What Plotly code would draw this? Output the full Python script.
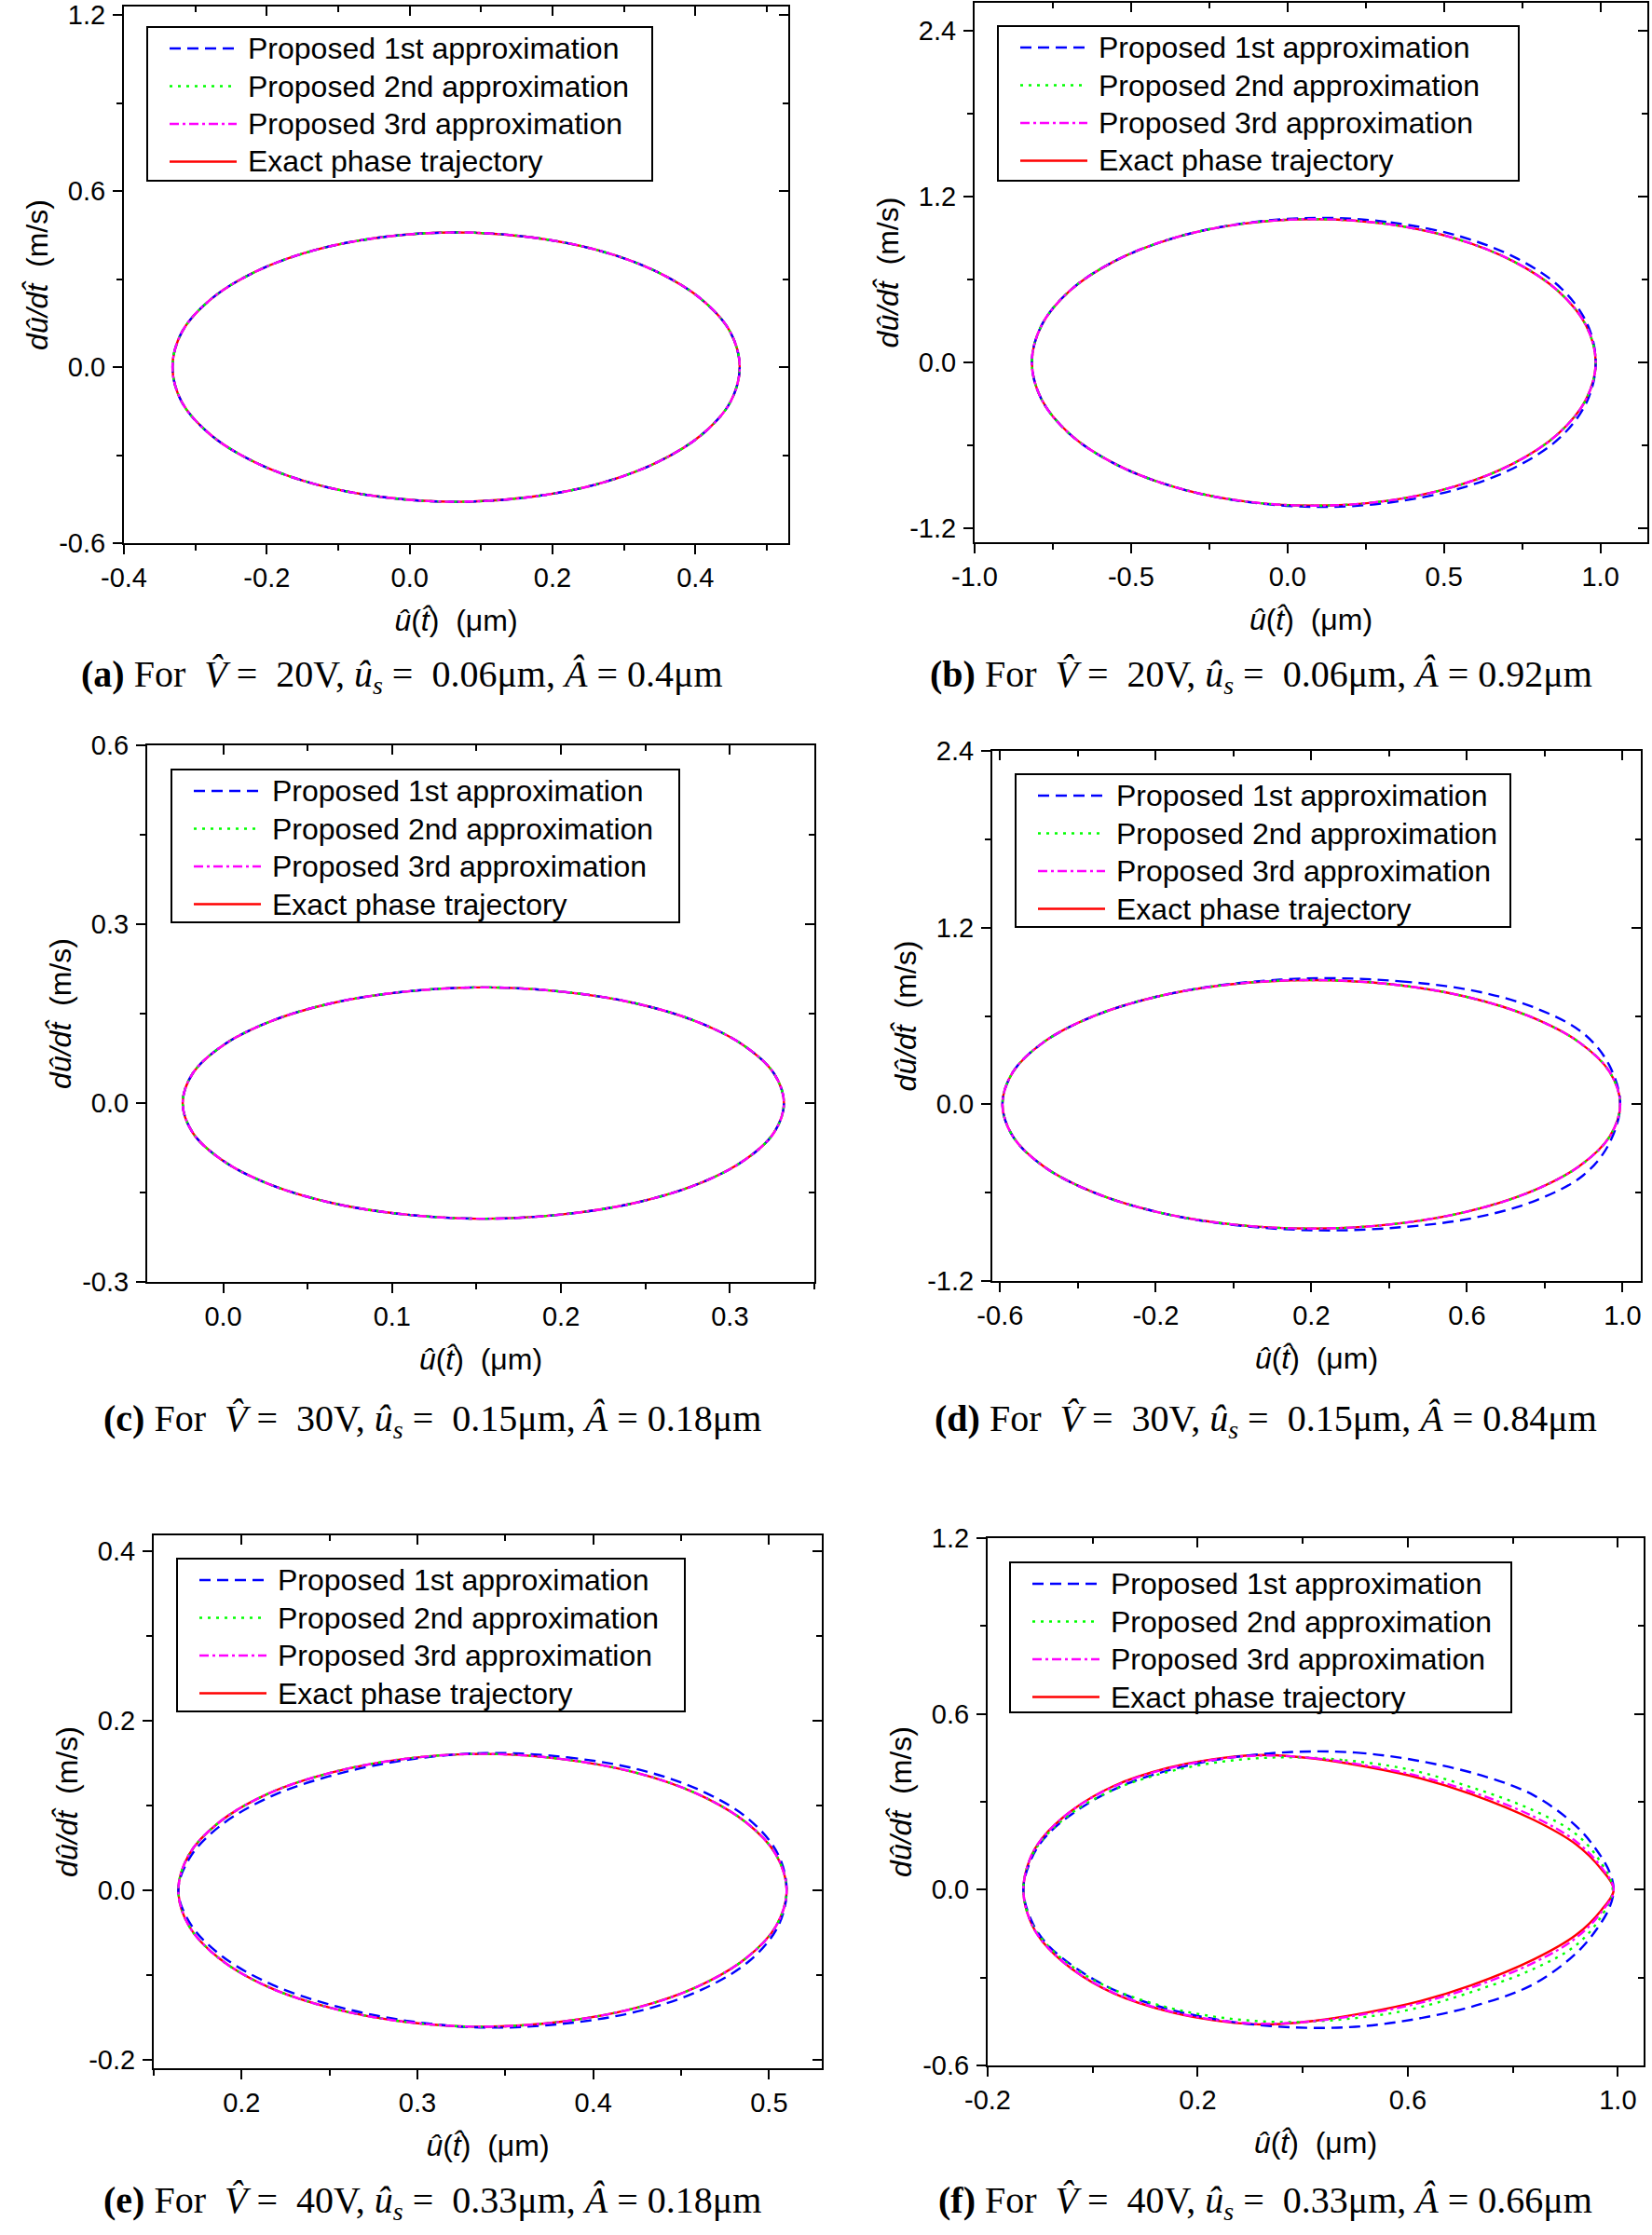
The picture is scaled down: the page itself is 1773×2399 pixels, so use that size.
import numpy as np
import plotly.graph_objects as go

W, H = 1773, 2399

# ============================================================
#   DATA: upper half of each trajectory,
#   from the left turning point to the right one
# ============================================================

series_names = ["Proposed 1st approximation", "Proposed 2nd approximation",
                "Proposed 3rd approximation", "Exact phase trajectory"]

panel_letters = ["a", "b", "c", "d", "e", "f"]
volts = ["20", "20", "30", "30", "40", "40"]
us_values = ["0.06", "0.06", "0.15", "0.15", "0.33", "0.33"]
amp_values = ["0.4", "0.92", "0.18", "0.84", "0.18", "0.66"]

# (a)
a_x_exact = [-0.332, -0.319, -0.279, -0.216, -0.134, -0.038, 0.065, 0.168, 0.264, 0.346, 0.409, 0.449, 0.462]
a_y_exact = [0, 0.119, 0.230, 0.325, 0.398, 0.443, 0.459, 0.443, 0.398, 0.325, 0.230, 0.119, 0]

# (b)
b_x_exact = [-0.817, -0.786, -0.696, -0.553, -0.367, -0.149, 0.084, 0.317, 0.535, 0.721, 0.864, 0.954, 0.985]
b_y_exact = [0, 0.268, 0.518, 0.732, 0.897, 1.001, 1.036, 1.001, 0.897, 0.732, 0.518, 0.268, 0]
b_x_1st = [-0.817, -0.786, -0.696, -0.553, -0.367, -0.149, 0.100, 0.330, 0.550, 0.735, 0.875, 0.958, 0.985]
b_y_1st = [0, 0.268, 0.518, 0.732, 0.897, 1.003, 1.045, 1.012, 0.912, 0.750, 0.535, 0.278, 0]

# (c)
c_x_exact = [-0.024, -0.018, 0.000, 0.028, 0.065, 0.108, 0.154, 0.200, 0.243, 0.280, 0.308, 0.326, 0.332]
c_y_exact = [0, 0.050, 0.097, 0.137, 0.168, 0.187, 0.194, 0.187, 0.168, 0.137, 0.097, 0.050, 0]

# (d)
d_x_exact = [-0.594, -0.567, -0.488, -0.361, -0.197, -0.006, 0.200, 0.406, 0.597, 0.761, 0.888, 0.967, 0.994]
d_y_exact = [0, 0.219, 0.422, 0.597, 0.731, 0.815, 0.844, 0.815, 0.731, 0.597, 0.422, 0.219, 0]
d_x_1st = [-0.594, -0.567, -0.488, -0.361, -0.197, -0.006, 0.220, 0.430, 0.620, 0.780, 0.900, 0.965, 0.994]
d_y_1st = [0, 0.219, 0.422, 0.597, 0.731, 0.818, 0.856, 0.835, 0.770, 0.650, 0.480, 0.270, 0]

# (e)
e_x_exact = [0.164, 0.170, 0.187, 0.215, 0.251, 0.292, 0.337, 0.382, 0.424, 0.459, 0.487, 0.504, 0.510]
e_y_exact = [0, 0.042, 0.080, 0.114, 0.139, 0.155, 0.161, 0.155, 0.139, 0.114, 0.080, 0.042, 0]
e_x_1st = [0.164, 0.171, 0.189, 0.218, 0.254, 0.294, 0.339, 0.385, 0.427, 0.462, 0.489, 0.505, 0.510]
e_y_1st = [0, 0.040, 0.078, 0.112, 0.137, 0.154, 0.162, 0.157, 0.142, 0.117, 0.083, 0.043, 0]

# (f)
f_x_exact = [-0.132, -0.120, -0.096, -0.040, 0.040, 0.144, 0.248, 0.330, 0.420, 0.520, 0.620, 0.720, 0.840, 0.920, 0.968, 0.992]
f_y_exact = [0, 0.102, 0.176, 0.270, 0.354, 0.416, 0.450, 0.460, 0.448, 0.420, 0.382, 0.327, 0.238, 0.155, 0.071, 0]
f_x_1st = [-0.132, -0.118, -0.090, -0.030, 0.050, 0.150, 0.260, 0.380, 0.500, 0.620, 0.740, 0.840, 0.920, 0.960, 0.984, 0.992]
f_y_1st = [0, 0.100, 0.180, 0.270, 0.350, 0.410, 0.450, 0.470, 0.468, 0.440, 0.390, 0.322, 0.218, 0.134, 0.061, 0]
f_x_2nd = [-0.132, -0.120, -0.092, -0.035, 0.045, 0.150, 0.260, 0.370, 0.480, 0.600, 0.720, 0.840, 0.920, 0.965, 0.990]
f_y_2nd = [0, 0.100, 0.178, 0.268, 0.345, 0.405, 0.440, 0.452, 0.442, 0.411, 0.350, 0.270, 0.190, 0.100, 0]
f_x_3rd = [-0.132, -0.120, -0.096, -0.040, 0.040, 0.144, 0.248, 0.330, 0.420, 0.520, 0.620, 0.720, 0.840, 0.920, 0.968, 0.992]
f_y_3rd = [0, 0.102, 0.176, 0.270, 0.352, 0.414, 0.448, 0.458, 0.449, 0.424, 0.388, 0.335, 0.249, 0.165, 0.078, 0]

# series per panel: (1st, 2nd, 3rd, exact); curves that coincide reuse the exact one
curves = {
    "a": [(a_x_exact, a_y_exact), (a_x_exact, a_y_exact), (a_x_exact, a_y_exact), (a_x_exact, a_y_exact)],
    "b": [(b_x_1st, b_y_1st), (b_x_exact, b_y_exact), (b_x_exact, b_y_exact), (b_x_exact, b_y_exact)],
    "c": [(c_x_exact, c_y_exact), (c_x_exact, c_y_exact), (c_x_exact, c_y_exact), (c_x_exact, c_y_exact)],
    "d": [(d_x_1st, d_y_1st), (d_x_exact, d_y_exact), (d_x_exact, d_y_exact), (d_x_exact, d_y_exact)],
    "e": [(e_x_1st, e_y_1st), (e_x_exact, e_y_exact), (e_x_exact, e_y_exact), (e_x_exact, e_y_exact)],
    "f": [(f_x_1st, f_y_1st), (f_x_2nd, f_y_2nd), (f_x_3rd, f_y_3rd), (f_x_exact, f_y_exact)],
}

# axis ranges / ticks
x_ranges = [[-0.4, 0.53], [-1.0, 1.15], [-0.045, 0.35], [-0.62, 1.047], [0.15, 0.53], [-0.2, 1.049]]
y_ranges = [[-0.6, 1.229], [-1.3, 2.6], [-0.3, 0.6], [-1.2, 2.4], [-0.21, 0.419], [-0.6, 1.2]]
x_tickvals = [[-0.4, -0.2, 0.0, 0.2, 0.4], [-1.0, -0.5, 0.0, 0.5, 1.0], [0.0, 0.1, 0.2, 0.3],
              [-0.6, -0.2, 0.2, 0.6, 1.0], [0.2, 0.3, 0.4, 0.5], [-0.2, 0.2, 0.6, 1.0]]
x_ticktext = [["-0.4", "-0.2", "0.0", "0.2", "0.4"], ["-1.0", "-0.5", "0.0", "0.5", "1.0"], ["0.0", "0.1", "0.2", "0.3"],
              ["-0.6", "-0.2", "0.2", "0.6", "1.0"], ["0.2", "0.3", "0.4", "0.5"], ["-0.2", "0.2", "0.6", "1.0"]]
y_tickvals = [[-0.6, 0.0, 0.6, 1.2], [-1.2, 0.0, 1.2, 2.4], [-0.3, 0.0, 0.3, 0.6],
              [-1.2, 0.0, 1.2, 2.4], [-0.2, 0.0, 0.2, 0.4], [-0.6, 0.0, 0.6, 1.2]]
y_ticktext = [["-0.6", "0.0", "0.6", "1.2"], ["-1.2", "0.0", "1.2", "2.4"], ["-0.3", "0.0", "0.3", "0.6"],
              ["-1.2", "0.0", "1.2", "2.4"], ["-0.2", "0.0", "0.2", "0.4"], ["-0.6", "0.0", "0.6", "1.2"]]
x_minor = [0.1, 0.25, 0.05, 0.2, 0.05, 0.2]
y_minor = [0.3, 0.6, 0.15, 0.6, 0.1, 0.3]

# ============================================================
#   LAYOUT (pixels in the 1773 x 2399 page)
# ============================================================

frames = [(133, 846, 7, 583), (1046, 1768, 3, 582), (158, 874, 800, 1376),
          (1065, 1761, 806, 1375), (165, 882, 1648, 2220), (1060, 1764, 1651, 2217)]
legend_boxes = [(158, 29, 700, 194), (1071, 28, 1630, 194), (184, 826, 729, 990),
                (1090, 831, 1621, 995), (190, 1673, 735, 1837), (1084, 1677, 1622, 1838)]
captions_xy = [(431, 726), (1353, 726), (464, 1525), (1358, 1525), (464, 2364), (1358, 2364)]

SANS = "Arial, Liberation Sans, sans-serif"
SERIF = "Times New Roman, Liberation Serif, serif"
NB = "\u00a0"

styles = [  # 1st, 2nd, 3rd, exact
    dict(color="#0000FF", width=2.4, dash="12px,7px"),
    dict(color="#00FF00", width=2.4, dash="3px,6px"),
    dict(color="#FF00FF", width=2.4, dash="10px,4px,3px,4px"),
    dict(color="#FF0000", width=2.4, dash="solid"),
]
draw_order = [3, 0, 1, 2]  # exact underneath, approximations on top


def px_x(v):
    return v / W


def px_y(v):
    return 1 - v / H


def loop(xu, yu):
    # close the upper half with its mirror image; seam at the flat top
    xs = list(xu) + list(xu[-2::-1])
    ys = list(yu) + [-v for v in yu[-2::-1]]
    k = int(np.argmax(yu))
    return xs[k:] + xs[1:k + 1], ys[k:] + ys[1:k + 1]


fig = go.Figure()
layout = {}
shapes = []
annotations = []

y_title = f"<i>dû/dt\u0302</i>{NB}{NB}(m/s)"
x_title = f"<i>û</i>(<i>t\u0302</i>){NB}{NB}(μm)"

for i, letter in enumerate(panel_letters):
    k = i + 1
    left, right, top, bottom = frames[i]

    for s in draw_order:
        xu, yu = curves[letter][s]
        xs, ys = loop(xu, yu)
        fig.add_trace(go.Scatter(
            x=xs, y=ys, mode="lines", name=series_names[s],
            line=dict(shape="spline", **styles[s]),
            xaxis=f"x{k}", yaxis=f"y{k}", showlegend=False
        ))

    tickfont = dict(family=SANS, size=29, color="black")
    common = dict(showgrid=False, zeroline=False, tickmode="array", automargin=False,
                  ticklen=10, tickwidth=2, tickcolor="black")

    layout[f"xaxis{k}"] = dict(
        domain=[px_x(left), px_x(right)], range=x_ranges[i], anchor=f"y{k}",
        tickvals=x_tickvals[i], ticktext=x_ticktext[i], ticks="outside",
        minor=dict(dtick=x_minor[i], tick0=0, ticks="outside", ticklen=6, tickwidth=2, tickcolor="black"),
        showline=True, linecolor="black", linewidth=2, mirror=True,
        tickfont=tickfont, ticklabeloverflow="allow", ticklabelstandoff=0,
        title=dict(text=x_title, font=dict(family=SANS, size=32, color="black"), standoff=20),
        **common)
    layout[f"yaxis{k}"] = dict(
        domain=[px_y(bottom), px_y(top)], range=y_ranges[i], anchor=f"x{k}",
        tickvals=y_tickvals[i], ticktext=y_ticktext[i], ticks="outside",
        minor=dict(dtick=y_minor[i], tick0=0, ticks="outside", ticklen=6, tickwidth=2, tickcolor="black"),
        showline=True, linecolor="black", linewidth=2, mirror=True,
        tickfont=tickfont, ticklabeloverflow="allow", ticklabelstandoff=2,
        title=dict(text=y_title, font=dict(family=SANS, size=32, color="black"), standoff=2),
        **common)

    # inward ticks on the top and right edges
    ko = k + 6
    layout[f"xaxis{ko}"] = dict(
        overlaying=f"x{k}", side="top", anchor=f"y{k}", range=x_ranges[i],
        tickvals=x_tickvals[i], ticks="inside", showticklabels=False, showline=False,
        minor=dict(dtick=x_minor[i], tick0=0, ticks="inside", ticklen=6, tickwidth=2, tickcolor="black"),
        **common)
    layout[f"yaxis{ko}"] = dict(
        overlaying=f"y{k}", side="right", anchor=f"x{k}", range=y_ranges[i],
        tickvals=y_tickvals[i], ticks="inside", showticklabels=False, showline=False,
        minor=dict(dtick=y_minor[i], tick0=0, ticks="inside", ticklen=6, tickwidth=2, tickcolor="black"),
        **common)
    fig.add_trace(go.Scatter(x=[None], y=[None], xaxis=f"x{ko}", yaxis=f"y{k}",
                             showlegend=False, hoverinfo="skip"))
    fig.add_trace(go.Scatter(x=[None], y=[None], xaxis=f"x{k}", yaxis=f"y{ko}",
                             showlegend=False, hoverinfo="skip"))

    # legend box
    bl, bt, br, bb = legend_boxes[i]
    shapes.append(dict(type="rect", xref="paper", yref="paper",
                       x0=px_x(bl), x1=px_x(br), y0=px_y(bb), y1=px_y(bt),
                       line=dict(color="black", width=2), fillcolor="white"))
    for r in range(4):
        yc = bt + 23 + 40.5 * r
        st = styles[r]
        shapes.append(dict(type="line", xref="paper", yref="paper",
                           x0=px_x(bl + 24), x1=px_x(bl + 96), y0=px_y(yc), y1=px_y(yc),
                           line=dict(color=st["color"], width=st["width"], dash=st["dash"])))
        annotations.append(dict(text=series_names[r], xref="paper", yref="paper",
                                x=px_x(bl + 106), y=px_y(yc), xanchor="left", yanchor="middle",
                                showarrow=False, font=dict(family=SANS, size=32, color="black")))

    # caption
    cap = (f"<b>({letter})</b> For{NB}{NB}<i>V\u0302</i>{NB}={NB}{NB}{volts[i]}V, "
           f"<i>û<sub>s</sub></i>{NB}={NB}{NB}{us_values[i]}μm, "
           f"<i>A\u0302</i>{NB}={NB}{amp_values[i]}μm")
    cx, cy = captions_xy[i]
    annotations.append(dict(text=cap, xref="paper", yref="paper", x=px_x(cx), y=px_y(cy),
                            xanchor="center", yanchor="middle", showarrow=False,
                            font=dict(family=SERIF, size=40, color="black")))

fig.update_layout(layout)
fig.update_layout(
    width=W, height=H, autosize=False,
    margin=dict(l=0, r=0, t=0, b=0, autoexpand=False),
    paper_bgcolor="white", plot_bgcolor="white",
    showlegend=False, shapes=shapes, annotations=annotations,
)

# the page body has a default 8px margin; drop it so the figure fills the window
fig.write_html("out.html", config={"displayModeBar": False},
               post_script="document.body.style.margin='0';document.body.style.overflow='hidden';")
